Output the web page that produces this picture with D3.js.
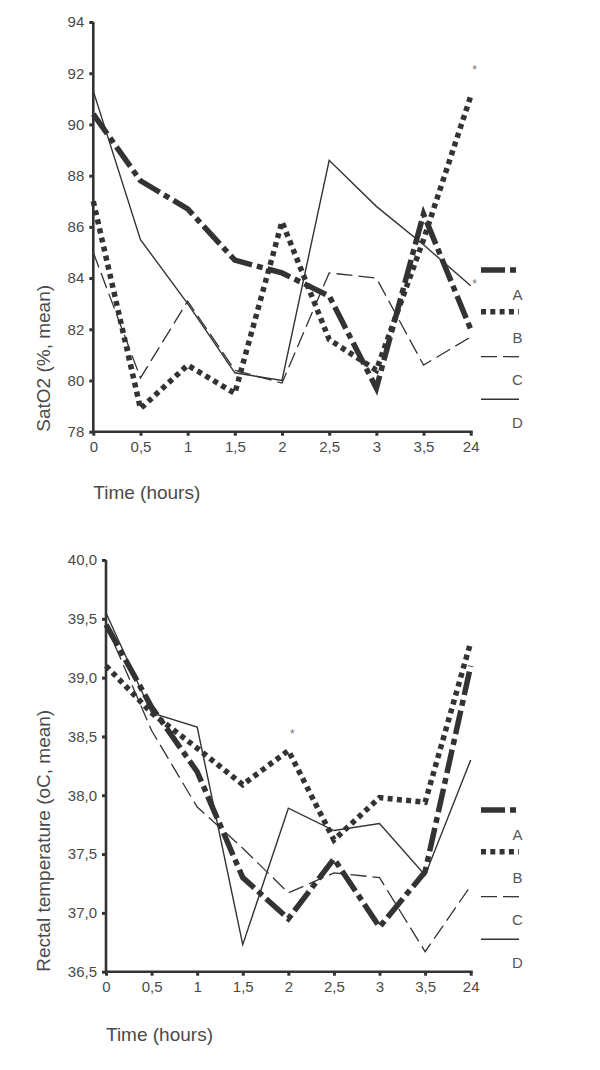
<!DOCTYPE html>
<html><head><meta charset="utf-8">
<script src="https://cdn.jsdelivr.net/npm/d3@7"></script>
<style>
html,body{margin:0;padding:0;background:#fff;}
svg{display:block;font-family:"Liberation Sans",Arial,sans-serif;}
</style></head>
<body>
<svg id="c" width="600" height="1070"></svg>
<script>
const categories = ["0","0,5","1","1,5","2","2,5","3","3,5","24"];
const seriesNames = ["A","B","C","D"];

// Top chart: SatO2 (%, mean)
const satA = [90.4, 87.8, 86.7, 84.7, 84.2, 83.3, 79.7, 86.5, 82.0];
const satB = [87.0, 78.9, 80.6, 79.5, 86.2, 81.6, 80.4, 85.5, 91.1];
const satC = [85.0, 80.1, 83.1, 80.4, 79.9, 84.2, 84.0, 80.6, 81.7];
const satD = [91.3, 85.5, 83.0, 80.3, 80.0, 88.6, 86.8, 85.3, 83.7];
const satTicks = [78, 80, 82, 84, 86, 88, 90, 92, 94];
const satStars = [{cat:"24", v:92.2}, {cat:"24", v:83.85}];

// Bottom chart: Rectal temperature (oC, mean)
const tempA = [39.45, 38.75, 38.2, 37.3, 36.95, 37.46, 36.88, 37.35, 39.1];
const tempB = [39.1, 38.7, 38.4, 38.09, 38.38, 37.62, 37.98, 37.94, 39.3];
const tempC = [39.45, 38.55, 37.9, 37.55, 37.17, 37.34, 37.3, 36.67, 37.23];
const tempD = [39.55, 38.7, 38.58, 36.73, 37.89, 37.7, 37.76, 37.32, 38.3];
const tempTicks = [36.5, 37.0, 37.5, 38.0, 38.5, 39.0, 39.5, 40.0];
const tempStars = [{cat:"2", v:38.54}];

const ink = "#333";
const textCol = "#4a4a4a";
const styles = {
  A: {w:5.5, dash:"24,5,6,5"},
  B: {w:5.5, dash:"5,4.3"},
  C: {w:1.3, dash:"16,6"},
  D: {w:1.4, dash:null}
};

const svg = d3.select("#c");

function drawChart(cfg){
  const g = svg.append("g");
  const x = d3.scalePoint().domain(categories).range(cfg.xr);
  const y = d3.scaleLinear().domain(cfg.yd).range(cfg.yr);

  // lines
  const line = d3.line().x((d,i)=>x(categories[i])).y(d=>y(d));
  cfg.series.forEach((vals, k)=>{
    const s = styles[seriesNames[k]];
    g.append("path").datum(vals).attr("d", line)
      .attr("fill","none").attr("stroke", ink)
      .attr("stroke-width", s.w)
      .attr("stroke-dasharray", s.dash)
      .attr("stroke-linejoin","miter");
  });

  // axes
  const yAxis = d3.axisLeft(y).tickValues(cfg.ticks).tickSize(4).tickPadding(5)
    .tickFormat(cfg.fmt);
  const ya = g.append("g").attr("transform", `translate(${cfg.xr[0]},0)`).call(yAxis);
  const xAxis = d3.axisBottom(x).tickSize(4).tickPadding(6);
  const xa = g.append("g").attr("transform", `translate(0,${cfg.yr[0]})`).call(xAxis);
  [ya, xa].forEach(a=>{
    a.select(".domain").attr("stroke", ink).attr("stroke-width", 2.6);
    a.selectAll(".tick line").attr("stroke", ink).attr("stroke-width", 3);
    a.selectAll(".tick text").attr("fill", textCol).style("font-size","15px")
      .style("font-family","'Liberation Sans',Arial,sans-serif");
  });
  xa.select(".domain").attr("d", `M${cfg.xr[0]},0H${cfg.xr[1]+2}`);
  ya.select(".domain").attr("d", `M0,${cfg.yr[0]}V${cfg.yr[1]}`);

  // stars
  cfg.stars.forEach(s=>{
    g.append("text").attr("x", x(s.cat)+4).attr("y", y(s.v)+6)
      .attr("text-anchor","middle").attr("fill","#777").style("font-size","12px").text("*");
  });

  // titles
  g.append("text").attr("x", cfg.xr[0]).attr("y", cfg.xTitleY)
    .attr("fill", textCol).style("font-size","19px").text("Time (hours)");
  g.append("text").attr("transform", `translate(50,${cfg.yr[0]}) rotate(-90)`)
    .attr("fill", textCol).style("font-size","19px").text(cfg.yTitle);

  // legend
  seriesNames.forEach((n,k)=>{
    const s = styles[n];
    const ly = cfg.legY[k];
    g.append("line").attr("x1",481).attr("x2",519).attr("y1",ly).attr("y2",ly)
      .attr("stroke", ink).attr("stroke-width", s.w)
      .attr("stroke-dasharray", s.dash);
    g.append("text").attr("x",517.5).attr("y",cfg.legT[k]).attr("text-anchor","middle")
      .attr("fill", "#555").style("font-size","15px").text(n);
  });
}

drawChart({
  xr:[93.3, 470.7], yd:[78,94], yr:[431.7, 22],
  ticks: satTicks, fmt: d3.format("d"),
  series:[satA, satB, satC, satD], stars: satStars,
  xTitleY: 499, yTitle: "SatO2 (%, mean)",
  legY:[270, 311.7, 356.7, 399.3], legT:[300, 342.7, 385, 428.3]
});

drawChart({
  xr:[106, 470.7], yd:[36.5,40], yr:[971.7, 560],
  ticks: tempTicks, fmt: d=>d3.format(".1f")(d).replace(".", ","),
  series:[tempA, tempB, tempC, tempD], stars: tempStars,
  xTitleY: 1041, yTitle: "Rectal temperature (oC, mean)",
  legY:[810, 851.7, 896.7, 939.3], legT:[840, 882.7, 925, 968.3]
});
</script>
</body></html>
